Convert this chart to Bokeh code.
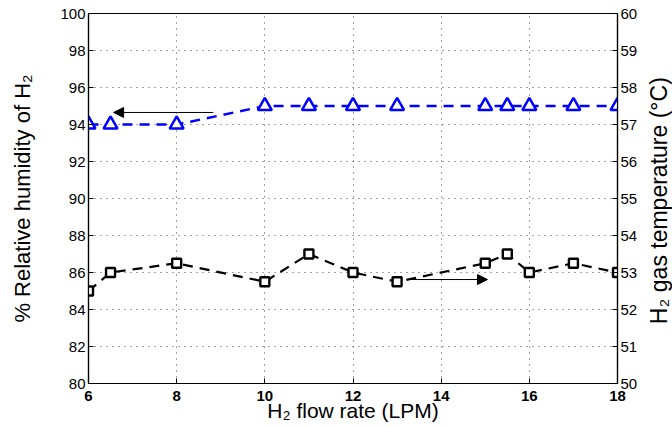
import math
from bokeh.plotting import figure
from bokeh.layouts import row
from bokeh.models import Range1d, LinearAxis, FixedTicker, Arrow, NormalHead
from bokeh.core.properties import value
from bokeh.embed import file_html
from bokeh.resources import INLINE

# Data
flow_rate = [6, 6.5, 8, 10, 11, 12, 13, 15, 15.5, 16, 17, 18]
humidity = [94, 94, 94, 95, 95, 95, 95, 95, 95, 95, 95, 95]
gas_temp = [52.5, 53, 53.25, 52.75, 53.5, 53, 52.75, 53.25, 53.5, 53, 53.25, 53]

x_ticks = [6, 8, 10, 12, 14, 16, 18]
left_ticks = [80, 82, 84, 86, 88, 90, 92, 94, 96, 98, 100]
right_ticks = [50, 51, 52, 53, 54, 55, 56, 57, 58, 59, 60]

x_title = "H₂ flow rate (LPM)"
left_title = "% Relative humidity of H₂"
right_title = "H₂ gas temperature (°C)"

# arrow annotations (start x, end x, y on left axis scale)
arrow_left = (8.83, 6.57, 94.65)
arrow_right = (13.26, 15.05, 85.62)

FONT = "Liberation Sans"

p = figure(width=644, height=427, frame_width=529, frame_height=370,
           x_range=Range1d(6, 18), y_range=Range1d(80, 100),
           output_backend="svg", toolbar_location=None,
           min_border_left=88, min_border_top=13, min_border_right=27, min_border_bottom=44)
p.extra_y_ranges = {"temp": Range1d(50, 60)}

p.outline_line_color = "black"
p.outline_line_width = 1.2
p.outline_line_alpha = 1


def style_axis(ax, label_size):
    ax.major_label_text_font = FONT
    ax.major_label_text_font_size = "15px"
    ax.major_label_text_color = "black"
    ax.axis_label_text_font = FONT
    ax.axis_label_text_font_size = label_size
    ax.axis_label_text_font_style = "normal"
    ax.axis_label_text_color = "black"
    ax.axis_line_color = "black"
    ax.axis_line_width = 1.2
    ax.major_tick_in = 5
    ax.major_tick_out = 0
    ax.minor_tick_in = 0
    ax.minor_tick_out = 0
    ax.major_label_standoff = 3
    ax.axis_label_standoff = 2


style_axis(p.xaxis[0], "21px")
style_axis(p.yaxis[0], "22px")
p.xaxis[0].ticker = FixedTicker(ticks=x_ticks)
p.yaxis[0].ticker = FixedTicker(ticks=left_ticks)
p.xaxis[0].axis_label = x_title
p.xaxis[0].axis_label_standoff = -5
p.xaxis[0].major_label_standoff = 7
p.xaxis[0].major_label_text_font_style = "bold"
p.yaxis[0].axis_label = left_title
p.yaxis[0].axis_label_standoff = 22

raxis = LinearAxis(y_range_name="temp", ticker=FixedTicker(ticks=right_ticks))
style_axis(raxis, "22px")
p.add_layout(raxis, "right")

p.xgrid.ticker = FixedTicker(ticks=x_ticks)
p.ygrid.ticker = FixedTicker(ticks=left_ticks)
for g in [p.xgrid[0], p.ygrid[0]]:
    g.grid_line_color = "#444444"
    g.grid_line_dash = "1 5"
    g.grid_line_width = 1

# humidity series (blue)
p.line(flow_rate, humidity, line_color="#0000ff", line_width=2.5, line_dash="10 7")
p.scatter(flow_rate, humidity, marker="triangle", size=14, line_color="#0000ff",
          line_width=2.5, fill_color="white")

# temperature series (black, right axis)
p.line(flow_rate, gas_temp, line_color="black", line_width=2.2, line_dash="10 7", y_range_name="temp")
p.scatter(flow_rate, gas_temp, marker="square", size=9, line_color="black",
          line_width=2.4, fill_color="white", y_range_name="temp")

for (xs, xe, yy) in [arrow_left, arrow_right]:
    p.add_layout(Arrow(end=NormalHead(size=10, fill_color="black", line_color="black"),
                       x_start=xs, x_end=xe, y_start=yy, y_end=yy,
                       line_color="black", line_width=1))

# narrow strip holding the right-hand axis title (reads bottom to top)
strip_w, strip_h = 28, 427
p2 = figure(width=strip_w, height=strip_h, x_range=Range1d(0, strip_w), y_range=Range1d(0, strip_h),
            output_backend="svg", toolbar_location=None, min_border=0)
p2.axis.visible = False
p2.grid.visible = False
p2.outline_line_color = None
p2.text(x=[strip_w / 2], y=[strip_h - 216], text=[right_title], angle=math.pi / 2,
        text_align="center", text_baseline="middle", text_font=value(FONT),
        text_font_size="23px", text_color="black")

layout = row(p, p2, spacing=0)
open("out.html", "w").write(file_html(layout, INLINE))
